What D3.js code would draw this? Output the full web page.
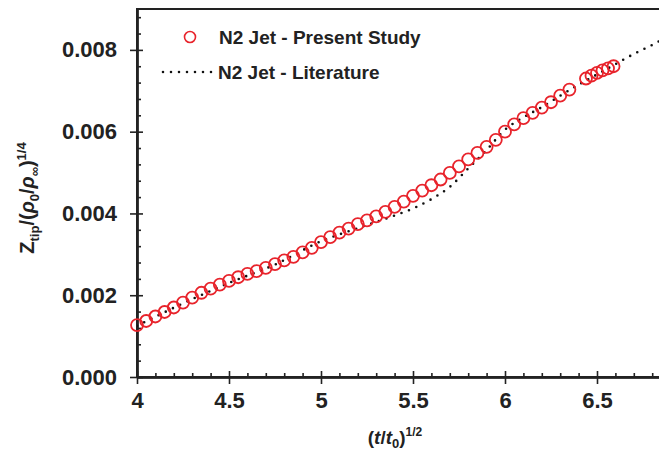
<!DOCTYPE html>
<html>
<head>
<meta charset="utf-8">
<script src="https://cdn.jsdelivr.net/npm/d3@7"></script>
<style>
  body { margin: 0; background: #fff; }
  text { font-family: "Liberation Sans", Arial, sans-serif; font-weight: bold; fill: #222; }
</style>
</head>
<body>
<div id="chart"></div>
<script>
// N2 jet - present study (open circles)
var studyX = [4.00, 4.05, 4.10, 4.15, 4.20, 4.25, 4.30, 4.35, 4.40, 4.45,
	4.50, 4.55, 4.60, 4.65, 4.70, 4.75, 4.80, 4.85, 4.90, 4.95,
	5.00, 5.05, 5.10, 5.15, 5.20, 5.25, 5.30, 5.35, 5.40, 5.45,
	5.50, 5.55, 5.60, 5.65, 5.70, 5.75, 5.80, 5.85, 5.90, 5.95,
	6.00, 6.05, 6.10, 6.15, 6.20, 6.25, 6.30, 6.35,
	6.44, 6.47, 6.50, 6.53, 6.56, 6.59];
var studyY = [0.00127, 0.00137, 0.00148, 0.00159, 0.00170, 0.00182, 0.00194, 0.00206, 0.00216, 0.00226,
	0.00235, 0.00244, 0.00252, 0.00259, 0.00267, 0.00276, 0.00285, 0.00294, 0.00305, 0.00316,
	0.00330, 0.00342, 0.00353, 0.00363, 0.00374, 0.00383, 0.00393, 0.00404, 0.00416, 0.00429,
	0.00443, 0.00456, 0.00469, 0.00483, 0.00499, 0.00515, 0.00532, 0.00548, 0.00563, 0.00580,
	0.00600, 0.00618, 0.00633, 0.00646, 0.00659, 0.00672, 0.00688, 0.00703,
	0.00730, 0.00737, 0.00744, 0.00750, 0.00755, 0.00760];

// N2 jet - literature (dotted line)
var litX = [4.00, 4.25, 4.50, 4.75, 5.00, 5.20, 5.40, 5.50, 5.60, 5.70,
	5.80, 5.90, 6.00, 6.10, 6.20, 6.30, 6.40, 6.50, 6.60, 6.70, 6.80, 6.90];
var litY = [0.00125, 0.00180, 0.00230, 0.00275, 0.00332, 0.00364, 0.00395, 0.00412, 0.00435, 0.00465,
	0.00510, 0.00555, 0.00605, 0.00635, 0.00660, 0.00688, 0.00715, 0.00740, 0.00765, 0.00790, 0.00812, 0.00838];

var xTicks = [4, 4.5, 5, 5.5, 6, 6.5];
var xTickLabels = ["4", "4.5", "5", "5.5", "6", "6.5"];
var yTicks = [0, 0.002, 0.004, 0.006, 0.008];
var yTickLabels = ["0.000", "0.002", "0.004", "0.006", "0.008"];

var width = 659, height = 452;
var marginLeft = 137, marginTop = 9, plotW = 552, plotH = 368;

var svg = d3.select("#chart").append("svg")
	.attr("width", width)
	.attr("height", height);

var x = d3.scaleLinear().domain([4, 7]).range([0, plotW]);
var y = d3.scaleLinear().domain([0, 0.009]).range([plotH, 0]);

var g = svg.append("g").attr("transform", "translate(" + marginLeft + "," + marginTop + ")");

// minor tick positions
var xMinor = d3.range(4, 7.001, 0.1).filter(function(v){ return Math.abs(v * 2 - Math.round(v * 2)) > 0.01; });
var yMinor = d3.range(0, 0.0090001, 0.0004).filter(function(v){ return Math.abs(v / 0.002 - Math.round(v / 0.002)) > 0.01; });

function styleAxis(sel) {
	sel.selectAll("path").attr("stroke", "#222").attr("stroke-width", 2);
	sel.selectAll("line").attr("stroke", "#222").attr("stroke-width", 1.6);
}

// frame
g.append("rect")
	.attr("x", 0).attr("y", 0)
	.attr("width", plotW).attr("height", plotH)
	.attr("fill", "none").attr("stroke", "#222").attr("stroke-width", 2);

// x axis: outside part with labels
var xa = g.append("g").attr("transform", "translate(0," + plotH + ")")
	.call(d3.axisBottom(x).tickValues(xTicks).tickSize(7).tickSizeOuter(0)
		.tickFormat(function(d, i){ return xTickLabels[i]; }));
styleAxis(xa);
xa.selectAll("text").attr("font-size", 22).attr("dy", "0.95em").attr("fill", "#222")
	.style("font-family", "Liberation Sans, Arial").style("font-weight", "bold");
// inside part of major ticks
styleAxis(g.append("g").attr("transform", "translate(0," + plotH + ")")
	.call(d3.axisTop(x).tickValues(xTicks).tickSize(6).tickSizeOuter(0).tickFormat("")));
// minor ticks
styleAxis(g.append("g").attr("transform", "translate(0," + plotH + ")")
	.call(d3.axisTop(x).tickValues(xMinor).tickSize(4).tickSizeOuter(0).tickFormat("")));

// y axis
var ya = g.append("g")
	.call(d3.axisLeft(y).tickValues(yTicks).tickSize(7).tickSizeOuter(0)
		.tickFormat(function(d, i){ return yTickLabels[i]; }));
styleAxis(ya);
ya.selectAll("text").attr("font-size", 22).attr("x", -20).attr("fill", "#222")
	.style("font-family", "Liberation Sans, Arial").style("font-weight", "bold");
styleAxis(g.append("g")
	.call(d3.axisRight(y).tickValues(yTicks).tickSize(6).tickSizeOuter(0).tickFormat("")));
styleAxis(g.append("g")
	.call(d3.axisRight(y).tickValues(yMinor).tickSize(4).tickSizeOuter(0).tickFormat("")));

// clip for the dotted line only
svg.append("defs").append("clipPath").attr("id", "clip")
	.append("rect").attr("x", 0).attr("y", 0).attr("width", plotW).attr("height", plotH);

var line = d3.line()
	.x(function(d){ return x(d[0]); })
	.y(function(d){ return y(d[1]); })
	.curve(d3.curveMonotoneX);

g.append("path")
	.attr("clip-path", "url(#clip)")
	.datum(d3.zip(litX, litY))
	.attr("d", line)
	.attr("fill", "none")
	.attr("stroke", "#111")
	.attr("stroke-width", 2.6)
	.attr("stroke-linecap", "round")
	.attr("stroke-dasharray", "0 8");

g.selectAll("circle.study")
	.data(d3.zip(studyX, studyY))
	.enter().append("circle")
	.attr("class", "study")
	.attr("cx", function(d){ return x(d[0]); })
	.attr("cy", function(d){ return y(d[1]); })
	.attr("r", 6)
	.attr("fill", "none")
	.attr("stroke", "#e8232b")
	.attr("stroke-width", 1.8);

// legend
var leg = svg.append("g");
leg.append("circle").attr("cx", 190).attr("cy", 37).attr("r", 5.5)
	.attr("fill", "none").attr("stroke", "#e8232b").attr("stroke-width", 1.6);
leg.append("text").attr("x", 219).attr("y", 44).attr("font-size", 19).text("N2 Jet - Present Study");
leg.append("line").attr("x1", 163).attr("x2", 212).attr("y1", 72).attr("y2", 72)
	.attr("stroke", "#111").attr("stroke-width", 2.6)
	.attr("stroke-linecap", "round").attr("stroke-dasharray", "0 8");
leg.append("text").attr("x", 218).attr("y", 79).attr("font-size", 19).text("N2 Jet - Literature");

// axis titles
var xt = svg.append("text").attr("x", 395).attr("y", 444).attr("text-anchor", "middle").attr("font-size", 19);
xt.append("tspan").text("(");
xt.append("tspan").attr("font-style", "italic").text("t");
xt.append("tspan").text("/");
xt.append("tspan").attr("font-style", "italic").text("t");
xt.append("tspan").attr("font-size", 13).attr("dy", 4).text("0");
xt.append("tspan").attr("dy", -4).text(")");
xt.append("tspan").attr("font-size", 12).attr("dy", -8).text("1/2");

var yt = svg.append("text").attr("transform", "translate(34,198) rotate(-90)")
	.attr("text-anchor", "middle").attr("font-size", 20);
yt.append("tspan").text("Z");
yt.append("tspan").attr("font-size", 13).attr("dy", 5).text("tip");
yt.append("tspan").attr("dy", -5).text("/(");
yt.append("tspan").attr("font-style", "italic").text("ρ");
yt.append("tspan").attr("font-size", 13).attr("dy", 5).text("0");
yt.append("tspan").attr("dy", -5).text("/");
yt.append("tspan").attr("font-style", "italic").text("ρ");
yt.append("tspan").attr("font-size", 13).attr("dy", 5).text("∞");
yt.append("tspan").attr("dy", -5).text(")");
yt.append("tspan").attr("font-size", 13).attr("dy", -8).text("1/4");
</script>
</body>
</html>
